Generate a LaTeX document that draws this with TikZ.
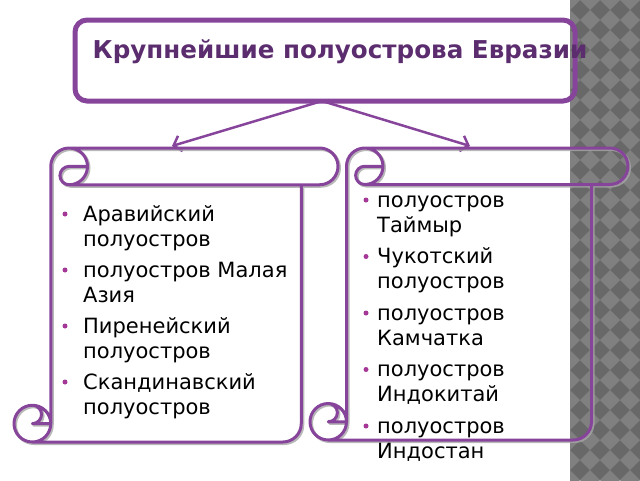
\documentclass[tikz,border=0pt]{standalone}
\usepackage{fontspec}
\setmainfont{DejaVu Sans}
\usetikzlibrary{arrows.meta}
\definecolor{pur}{RGB}{135,68,155}
\definecolor{titlec}{RGB}{92,45,110}
\definecolor{bulc}{RGB}{165,55,150}
\definecolor{stripdark}{RGB}{104,104,104}
\definecolor{striplight}{RGB}{128,128,128}
\newcommand\myscroll[5]{%
 \begin{scope}[shift={(#1,#2)}]
 \pgfmathsetmacro\ch{0.125*min(#3,#4)}
 \pgfmathsetmacro\chh{\ch/2}
 \pgfmathsetmacro\chq{\ch/4}
 \pgfmathsetmacro\xthree{\ch+\chh}
 \pgfmathsetmacro\xfour{2*\ch}
 \pgfmathsetmacro\xsix{#3-\ch}
 \pgfmathsetmacro\xseven{#3-\chh}
 \pgfmathsetmacro\ythree{#4-\ch}
 \pgfmathsetmacro\yfour{#4-\chh}
 \draw[#5] (\ch,\yfour) -- (\ch,\chh) arc[start angle=180,delta angle=90,radius=\chh]
   -- (\xseven,0) arc[start angle=270,delta angle=180,radius=\chh]
   -- (\xsix,\ch) -- (\xsix,\yfour) arc[start angle=0,delta angle=90,radius=\chh]
   -- (\chh,#4) arc[start angle=90,delta angle=180,radius=\chh]
   arc[start angle=270,delta angle=90,radius=\chh]
   (\xthree,0) arc[start angle=270,delta angle=180,radius=\chh]
   arc[start angle=90,delta angle=180,radius=\chq] -- (\xfour,\chh)
   (\xsix,\ch) -- (\xthree,\ch)
   (\chh,\ythree) arc[start angle=270,delta angle=180,radius=\chq] -- (\ch,\yfour)
   (\chh,#4) arc[start angle=90,delta angle=-90,radius=\chh] -- (\ch,\ythree);
 \end{scope}}
\tikzset{
  scrollline/.style={draw=pur,line width=3pt,line join=round,line cap=round},
  scrollshadow/.style={draw=black!35,line width=3pt,line join=round,line cap=round,opacity=0.8},
  itemtext/.style={anchor=base west,inner sep=0pt,font=\fontsize{21}{25}\selectfont,text=black},
  bul/.style={circle,fill=bulc,inner sep=0pt,minimum size=5pt},
  arr/.style={draw=pur,line width=2.5pt,-{Straight Barb[length=7pt,width=16pt,line width=2.5pt]}},
}
\begin{document}
\begin{tikzpicture}[x=1pt,y=-1pt]
\useasboundingbox (0,0) rectangle (640,480);
% right strip
\begin{scope}
\clip (570,0) rectangle (640,480);
\fill[stripdark] (570,0) rectangle (640,480);
\foreach \i in {0,...,4}{\foreach \j in {0,...,25}{
  \fill[striplight] ({570+20*\i},{20*\j-10}) -- ++(10,10) -- ++(-10,10) -- ++(-10,-10) -- cycle;
}}
\end{scope}
% title
\node[draw=pur,line width=5pt,rounded corners=12pt,minimum width=500pt,minimum height=81pt,inner sep=0pt] (title) at (325,60.5) {};
\node[anchor=base,inner sep=0pt,font=\bfseries\fontsize{24.6}{29}\selectfont,text=titlec] (titletext) at (340,58) {Крупнейшие полуострова Евразии};
\coordinate (src) at (322,101);
\coordinate (lt) at (172,146);
\coordinate (rt) at (470,146);
\draw[arr] (src) -- (lt);
\draw[arr] (src) -- (rt);
% scrolls
\myscroll{15.5}{149.5}{324}{294}{scrollshadow}
\myscroll{14}{148}{324}{294}{scrollline}
\myscroll{311.5}{149.5}{318}{292}{scrollshadow}
\myscroll{310}{148}{318}{292}{scrollline}
% left items
\node[bul] (lb1) at (65,214) {};
\node[itemtext] (l1a) at (83,221) {Аравийский};
\node[itemtext] (l1b) at (83,246) {полуостров};
\node[bul] (lb2) at (65,270) {};
\node[itemtext] (l2a) at (83,277) {полуостров Малая};
\node[itemtext] (l2b) at (83,302) {Азия};
\node[bul] (lb3) at (65,326) {};
\node[itemtext] (l3a) at (83,333) {Пиренейский};
\node[itemtext] (l3b) at (83,358) {полуостров};
\node[bul] (lb4) at (65,382) {};
\node[itemtext] (l4a) at (83,389) {Скандинавский};
\node[itemtext] (l4b) at (83,414) {полуостров};
% right items
\node[bul] (rb1) at (366,200) {};
\node[itemtext] (r1a) at (377,207) {полуостров};
\node[itemtext] (r1b) at (377,232) {Таймыр};
\node[bul] (rb2) at (366,256.5) {};
\node[itemtext] (r2a) at (377,263.5) {Чукотский};
\node[itemtext] (r2b) at (377,288.5) {полуостров};
\node[bul] (rb3) at (366,313) {};
\node[itemtext] (r3a) at (377,320) {полуостров};
\node[itemtext] (r3b) at (377,345) {Камчатка};
\node[bul] (rb4) at (366,369.5) {};
\node[itemtext] (r4a) at (377,376.5) {полуостров};
\node[itemtext] (r4b) at (377,401.5) {Индокитай};
\node[bul] (rb5) at (366,426) {};
\node[itemtext] (r5a) at (377,433) {полуостров};
\node[itemtext] (r5b) at (377,458) {Индостан};
\end{tikzpicture}
\end{document}
